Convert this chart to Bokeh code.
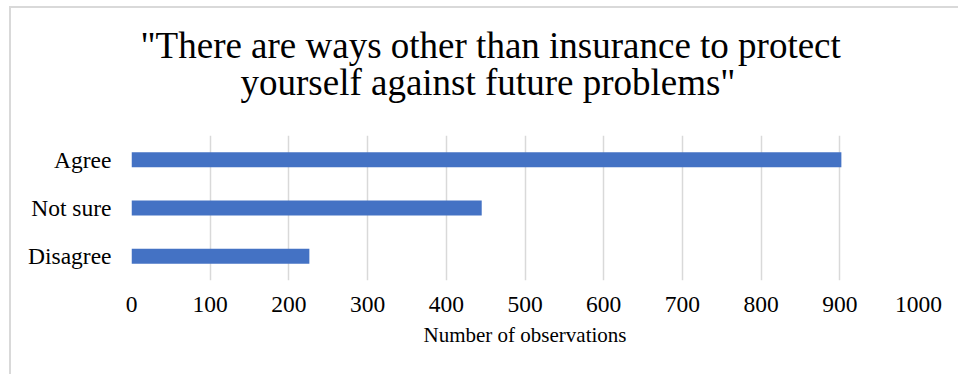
from bokeh.plotting import figure
from bokeh.models import Range1d, FactorRange, FixedTicker, Title
from bokeh.embed import file_html
from bokeh.resources import INLINE

# Survey responses (bottom to top on the chart)
categories = ["Disagree", "Not sure", "Agree"]
counts = [226, 445, 902]
x_ticks = [0, 100, 200, 300, 400, 500, 600, 700, 800, 900, 1000]
title_lines = ['"There are ways other than insurance to protect',
               'yourself against future problems"']

SERIF = "Liberation Serif"
BAR_COLOR = "#4472C4"
GRID_COLOR = "#d9d9d9"

# Thin grey chart-area border (left and top edges), painted behind a transparent canvas
border_css = {
    "background-image": f"linear-gradient({GRID_COLOR},{GRID_COLOR}), linear-gradient({GRID_COLOR},{GRID_COLOR})",
    "background-size": "2px 100%, 100% 2px",
    "background-position": "9px 7px, 9px 6px",
    "background-repeat": "no-repeat",
}

p = figure(
    width=958, height=374,
    y_range=FactorRange(*categories, range_padding=0),
    x_range=Range1d(0, 1000),
    output_backend="svg", toolbar_location=None,
    title=None,
    min_border_left=131, min_border_right=40,
    min_border_top=135, min_border_bottom=94,
    styles=border_css,
)
p.border_fill_alpha = 0
p.background_fill_color = "white"

p.hbar(y=categories, right=counts, left=0, height=0.31, color=BAR_COLOR, line_color=None)

# Two-line title, each line placed on its own
line2 = Title(text=title_lines[1], align="left", offset=109, standoff=66,
              text_font=SERIF, text_font_size="37px", text_font_style="normal",
              text_color="#000000")
line1 = Title(text=title_lines[0], align="left", offset=9, standoff=-78,
              text_font=SERIF, text_font_size="37px", text_font_style="normal",
              text_color="#000000")
p.add_layout(line2, "above")
p.add_layout(line1, "above")

# Axes
p.xaxis.ticker = FixedTicker(ticks=x_ticks)
p.xaxis.axis_label = "Number of observations"
p.xaxis.axis_label_text_font = SERIF
p.xaxis.axis_label_text_font_size = "21px"
p.xaxis.axis_label_text_font_style = "normal"
p.xaxis.axis_label_text_color = "#000000"
p.xaxis.axis_label_standoff = 8
p.xaxis.major_label_text_font = SERIF
p.xaxis.major_label_text_font_size = "23.5px"
p.xaxis.major_label_text_color = "#000000"
p.xaxis.major_label_standoff = 10
p.xaxis.axis_line_color = None
p.xaxis.major_tick_line_color = None
p.xaxis.minor_tick_line_color = None

p.yaxis.major_label_text_font = SERIF
p.yaxis.major_label_text_font_size = "23.5px"
p.yaxis.major_label_text_color = "#000000"
p.yaxis.major_label_standoff = 14
p.yaxis.axis_line_color = None
p.yaxis.major_tick_line_color = None
p.yaxis.minor_tick_line_color = None

# Grid
p.xgrid.grid_line_color = GRID_COLOR
p.xgrid.grid_line_width = 1.5
p.ygrid.grid_line_color = None
p.outline_line_color = None

open("out.html", "w").write(file_html(p, INLINE))
